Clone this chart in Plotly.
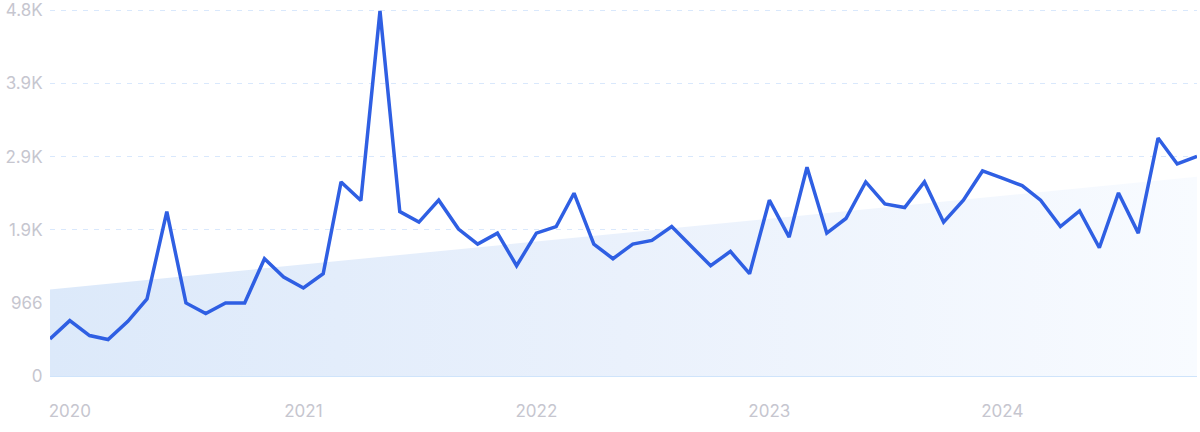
"""
Linha mensal de buscas com área de tendência em degradê.
"""

import pandas as pd
import plotly.graph_objects as go


MONTHS = pd.date_range("2019-12-01", periods=60, freq="MS")

VOLUME = [
    490, 731, 534, 481, 722, 1017, 2172, 965, 824, 965,
    965, 1549, 1307, 1162, 1351, 2563, 2317, 4821, 2172, 2032,
    2322, 1940, 1742, 1887, 1456, 1887, 1974, 2414, 1742, 1549,
    1742, 1790, 1974, 1703, 1456, 1645, 1351, 2322, 1835, 2757,
    1887, 2080, 2563, 2273, 2225, 2563, 2032, 2322, 2708, 2612,
    2515, 2322, 1974, 2181, 1694, 2418, 1887, 3143, 2801, 2902,
]

TREND_START = 1144
TREND_END = 2633

Y_TICKS = [0, 966, 1932, 2898, 3864, 4830]
Y_LABELS = ["0", "966", "1.9K", "2.9K", "3.9K", "4.8K"]

YEAR_TICKS = ["2020-01-01", "2021-01-01", "2022-01-01", "2023-01-01", "2024-01-01"]
YEAR_LABELS = ["2020", "2021", "2022", "2023", "2024"]

LINE_COLOR = "#2f5fe3"
GRID_COLOR = "#d9e8fc"
LABEL_COLOR = "#c6c6cf"

Y_MAX = 4900


fig = go.Figure()

fig.add_trace(
    go.Scatter(
        x=[MONTHS[0], MONTHS[-1]],
        y=[TREND_START, TREND_END],
        mode="lines",
        line=dict(width=0),
        fill="tozeroy",
        fillgradient=dict(
            type="horizontal",
            colorscale=[[0, "#dce9fa"], [0.5, "#eaf1fc"], [1, "#f8fbff"]],
        ),
        hoverinfo="skip",
        showlegend=False,
    )
)

fig.add_trace(
    go.Scatter(
        x=MONTHS,
        y=VOLUME,
        mode="lines",
        line=dict(color=LINE_COLOR, width=3.5),
        showlegend=False,
    )
)

fig.update_layout(
    width=1200,
    height=432,
    paper_bgcolor="white",
    plot_bgcolor="white",
    margin=dict(l=50, r=3, t=4.7, b=55.5),
    font=dict(family="Inter, Roboto, sans-serif", size=17, color=LABEL_COLOR),
)

fig.update_xaxes(
    range=[MONTHS[0], MONTHS[-1]],
    tickvals=YEAR_TICKS,
    ticktext=YEAR_LABELS,
    showgrid=False,
    zeroline=False,
    showline=False,
    ticks="outside",
    ticklen=20,
    tickcolor="rgba(0,0,0,0)",
    automargin=False,
)

fig.update_yaxes(
    range=[0, Y_MAX],
    tickvals=Y_TICKS,
    ticktext=Y_LABELS,
    showgrid=True,
    gridcolor=GRID_COLOR,
    griddash="5px,6px",
    gridwidth=1,
    zeroline=True,
    zerolinecolor="#cfe4fb",
    zerolinewidth=1,
    showline=False,
    ticks="outside",
    ticklen=3,
    tickcolor="rgba(0,0,0,0)",
    automargin=False,
)

# sem a margem padrão do body, o gráfico ocupa a janela inteira
fig.write_html(
    "out.html",
    config={"displayModeBar": False},
    post_script="document.body.style.margin = '0';",
)
